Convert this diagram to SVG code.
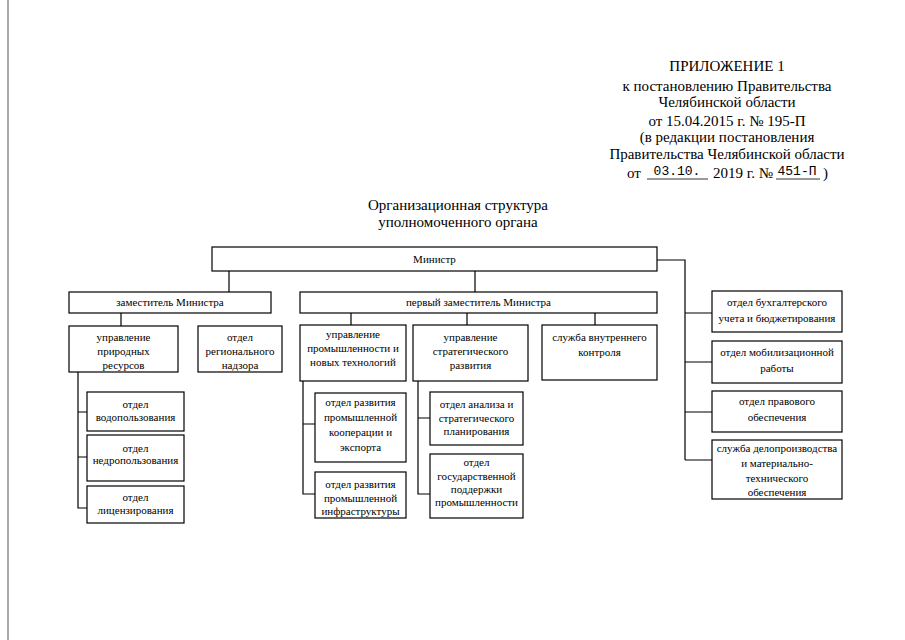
<svg xmlns="http://www.w3.org/2000/svg" width="905" height="640" viewBox="0 0 905 640">
<style>
.b{fill:#fff;stroke:#000;stroke-width:1.2}
.c{fill:none;stroke:#000;stroke-width:1.2}
.t{font-family:"Liberation Serif","Times New Roman",serif;font-size:11px;fill:#000;text-anchor:middle}
.h{font-family:"Liberation Serif","Times New Roman",serif;font-size:15px;fill:#000;text-anchor:middle}
.hs{font-family:"Liberation Serif","Times New Roman",serif;font-size:15px;fill:#000}
.m{font-family:"Liberation Mono","Courier New",monospace;font-size:13px;fill:#000;text-anchor:middle}
</style>
<rect width="905" height="640" fill="#fff"/>
<line x1="8" y1="0" x2="8" y2="640" stroke="#555" stroke-width="1"/>
<g id="header">
<text class="h" x="727" y="71">ПРИЛОЖЕНИЕ 1</text>
<text class="h" x="727" y="91">к постановлению Правительства</text>
<text class="h" x="727" y="107">Челябинской области</text>
<text class="h" x="727" y="126">от 15.04.2015 г. № 195-П</text>
<text class="h" x="727" y="142">(в редакции постановления</text>
<text class="h" x="727" y="159">Правительства Челябинской области</text>
<text class="hs" x="627" y="178">от</text>
<line x1="647" y1="179" x2="708" y2="179" stroke="#000" stroke-width="0.8"/>
<text class="m" x="677" y="175">03.10.</text>
<text class="hs" x="713" y="178">2019 г. №</text>
<line x1="776" y1="179" x2="820" y2="179" stroke="#000" stroke-width="0.8"/>
<text class="m" x="797" y="175">451-П</text>
<text class="hs" x="823" y="178">)</text>
</g>
<g id="title">
<text class="h" x="458" y="210">Организационная структура</text>
<text class="h" x="458" y="227">уполномоченного органа</text>
</g>
<g id="connectors">
<path class="c" d="M229 271V292M475 271V292M657 260H685V460M685 313H712M685 362H712M685 412H712M685 460H712"/>
<path class="c" d="M121 313V326M78 372V508H87M78 412H87M78 457H87"/>
<path class="c" d="M351 313V325M467 313V325M595 313V325"/>
<path class="c" d="M303 381V494H315M303 424H315M418 381V494H430M418 418H430"/>
</g>
<g id="n-minister"><rect class="b" x="212" y="247" width="445" height="24"/><text class="t" x="434.5" y="263">Министр</text></g>
<g id="n-deputy"><rect class="b" x="69" y="292" width="202" height="21"/><text class="t" x="170" y="306">заместитель Министра</text></g>
<g id="n-first-deputy"><rect class="b" x="300" y="292" width="357" height="21"/><text class="t" x="478.5" y="306">первый заместитель Министра</text></g>
<g id="n-nature"><rect class="b" x="69" y="326" width="109" height="46"/><text class="t" x="123.5" y="341">управление</text><text class="t" x="123.5" y="355">природных</text><text class="t" x="123.5" y="369">ресурсов</text></g>
<g id="n-regional"><rect class="b" x="198" y="326" width="84" height="46"/><text class="t" x="240" y="341">отдел</text><text class="t" x="240" y="355">регионального</text><text class="t" x="240" y="369">надзора</text></g>
<g id="n-water"><rect class="b" x="87" y="392" width="97" height="39"/><text class="t" x="135.5" y="408">отдел</text><text class="t" x="135.5" y="421">водопользования</text></g>
<g id="n-subsoil"><rect class="b" x="87" y="435" width="97" height="46"/><text class="t" x="135.5" y="452">отдел</text><text class="t" x="135.5" y="464">недропользования</text></g>
<g id="n-license"><rect class="b" x="87" y="486" width="97" height="37"/><text class="t" x="135.5" y="501">отдел</text><text class="t" x="135.5" y="514">лицензирования</text></g>
<g id="n-industry"><rect class="b" x="300" y="325" width="106" height="56"/><text class="t" x="353" y="338">управление</text><text class="t" x="353" y="352">промышленности и</text><text class="t" x="353" y="366">новых технологий</text></g>
<g id="n-strategy"><rect class="b" x="413" y="325" width="115" height="56"/><text class="t" x="470.5" y="341">управление</text><text class="t" x="470.5" y="355">стратегического</text><text class="t" x="470.5" y="369">развития</text></g>
<g id="n-control"><rect class="b" x="542" y="325" width="115" height="55"/><text class="t" x="599.5" y="341">служба внутреннего</text><text class="t" x="599.5" y="356">контроля</text></g>
<g id="n-coop"><rect class="b" x="315" y="393" width="91" height="69"/><text class="t" x="360.5" y="406">отдел развития</text><text class="t" x="360.5" y="421">промышленной</text><text class="t" x="360.5" y="436">кооперации и</text><text class="t" x="360.5" y="451">экспорта</text></g>
<g id="n-infra"><rect class="b" x="315" y="472" width="91" height="46"/><text class="t" x="360.5" y="488">отдел развития</text><text class="t" x="360.5" y="502">промышленной</text><text class="t" x="360.5" y="515">инфраструктуры</text></g>
<g id="n-analysis"><rect class="b" x="430" y="392" width="93" height="53"/><text class="t" x="476.5" y="408">отдел анализа и</text><text class="t" x="476.5" y="422">стратегического</text><text class="t" x="476.5" y="435">планирования</text></g>
<g id="n-support"><rect class="b" x="430" y="454" width="93" height="64"/><text class="t" x="476.5" y="466">отдел</text><text class="t" x="476.5" y="480">государственной</text><text class="t" x="476.5" y="493">поддержки</text><text class="t" x="476.5" y="506">промышленности</text></g>
<g id="n-accounting"><rect class="b" x="712" y="291" width="130" height="41"/><text class="t" x="777" y="306">отдел бухгалтерского</text><text class="t" x="777" y="322">учета и бюджетирования</text></g>
<g id="n-mobilization"><rect class="b" x="712" y="341" width="130" height="42"/><text class="t" x="777" y="356">отдел мобилизационной</text><text class="t" x="777" y="372">работы</text></g>
<g id="n-legal"><rect class="b" x="712" y="391" width="130" height="41"/><text class="t" x="777" y="405">отдел правового</text><text class="t" x="777" y="421">обеспечения</text></g>
<g id="n-records"><rect class="b" x="712" y="440" width="130" height="59"/><text class="t" x="777" y="452">служба делопроизводства</text><text class="t" x="777" y="467">и материально-</text><text class="t" x="777" y="482">технического</text><text class="t" x="777" y="496">обеспечения</text></g>
</svg>
